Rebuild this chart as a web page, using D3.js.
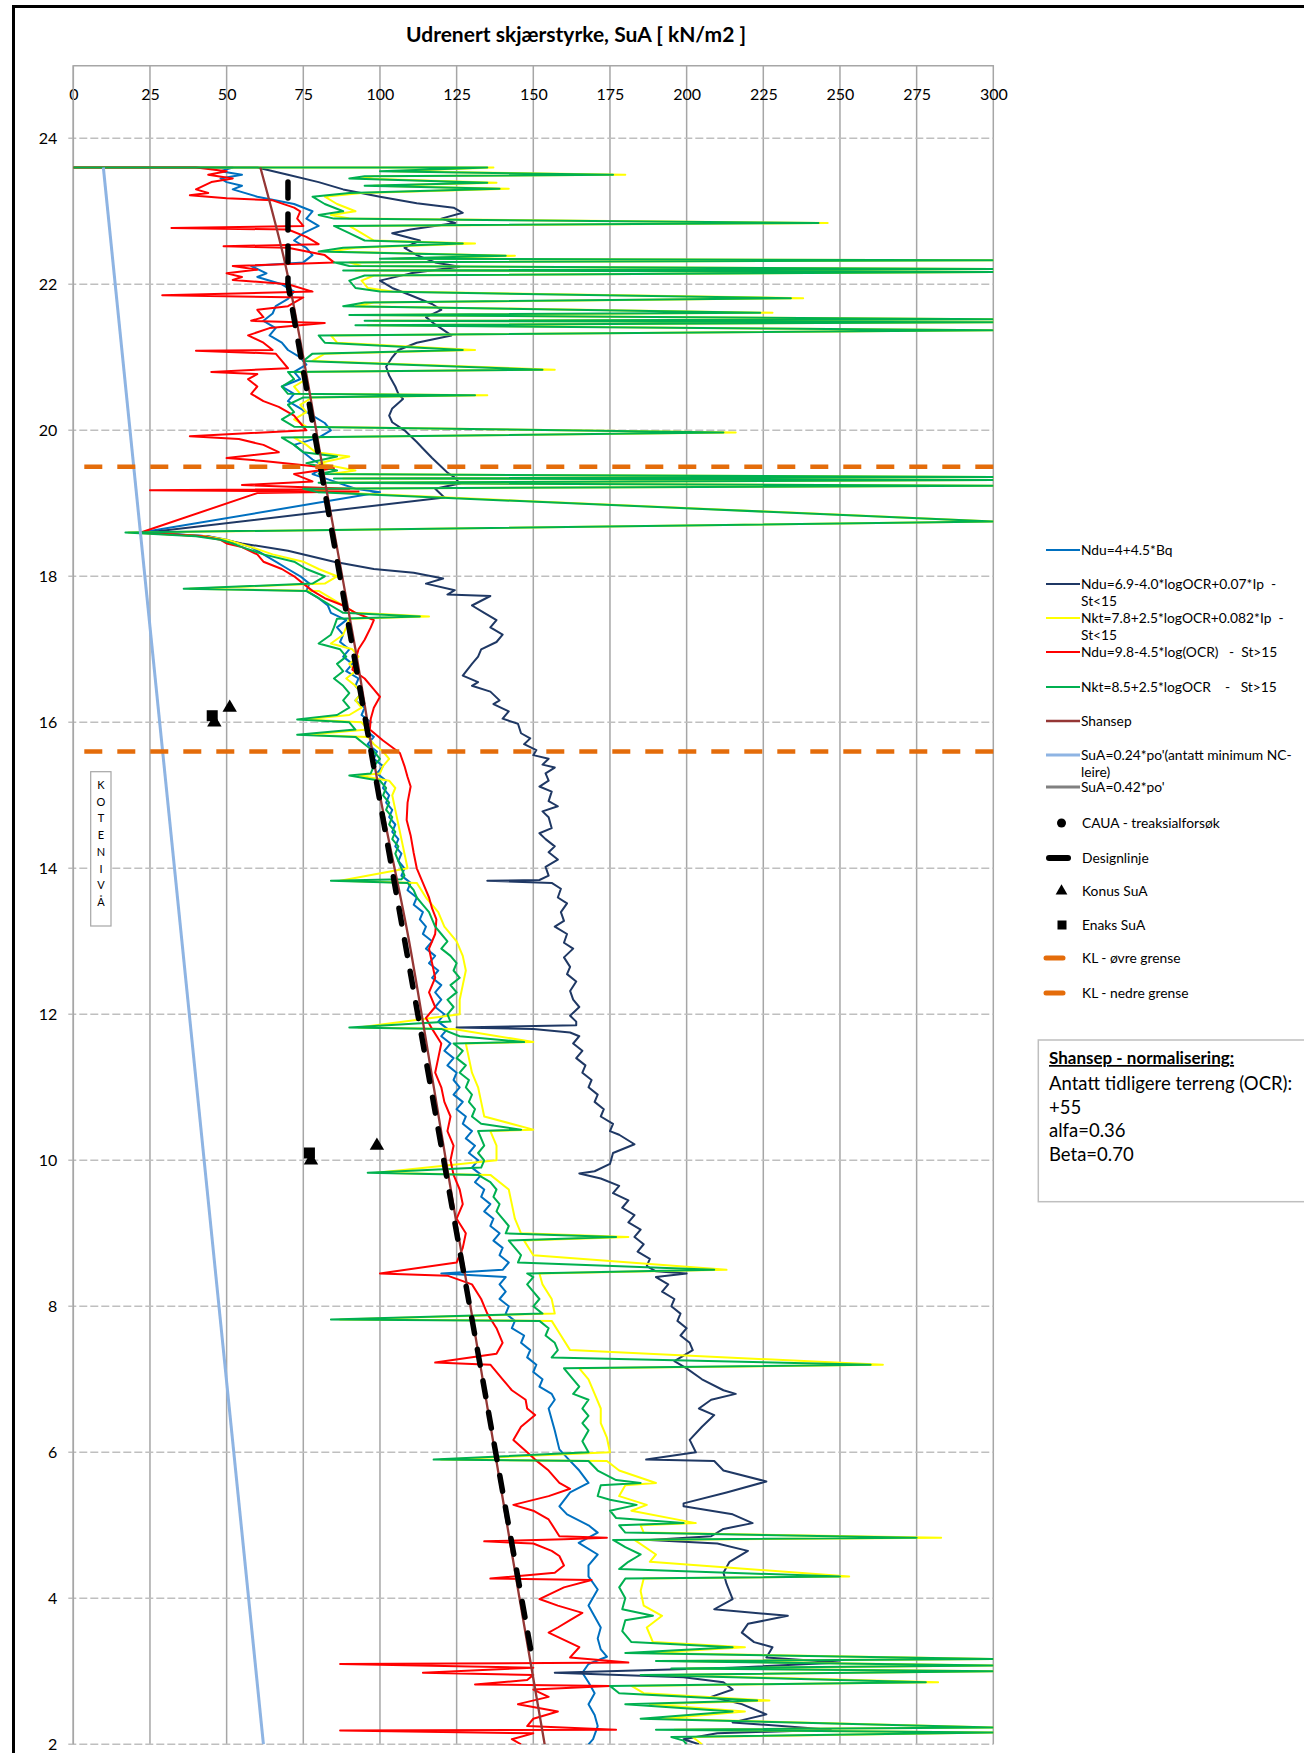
<!DOCTYPE html>
<html>
<head>
<meta charset="utf-8">
<script src="https://cdn.jsdelivr.net/npm/d3@7"></script>
<style>
  body { margin: 0; background: #fff; }
  svg { display: block; }
  text { font-family: Lato, "Open Sans", "DejaVu Sans", sans-serif; fill: #000; }
</style>
</head>
<body>
<svg id="chart" width="1304" height="1753"></svg>
<script>
// ---- axis ticks ----
const xTicks = [0, 25, 50, 75, 100, 125, 150, 175, 200, 225, 250, 275, 300];
const yTicks = [24, 22, 20, 18, 16, 14, 12, 10, 8, 6, 4, 2];

// ---- CPTU-derived undrained shear strength profiles: [kote, SuA] ----
const nduBq = [
  [23.6,0],[23.6,52],[23.55,48],[23.5,55],[23.45,48],[23.4,50],[23.35,55],[23.3,52],[23.2,60],[23.1,72],[23.0,78],[22.9,76],[22.8,80],[22.7,75],[22.6,72],[22.5,76],[22.4,78],[22.3,75],[22.25,58],[22.15,63],[22.1,60],[22.0,68],[21.9,72],[21.8,70],[21.7,66],[21.6,65],[21.5,62],[21.4,66],[21.3,64],[21.2,68],[21.1,70],[21.0,74],[20.9,76],[20.8,72],[20.7,74],[20.6,68],[20.5,72],[20.4,70],[20.3,74],[20.2,78],[20.1,82],[20.0,84],[19.9,80],[19.8,72],[19.7,75],[19.6,78],[19.5,82],[19.4,78],[19.3,85],[19.2,92],[19.15,100],
  [18.6,22],[18.55,44],[18.5,50],[18.4,58],[18.3,62],[18.2,66],[18.1,70],[18.0,74],[17.9,77],[17.8,76],[17.7,80],[17.6,83],[17.5,84],[17.4,89],[17.3,86],[17.2,88],[17.1,87],[17.0,90],[16.9,88],[16.8,91],[16.7,89],[16.6,93],[16.5,92],[16.4,94],[16.3,92],[16.2,95],[16.1,94],[16.0,97],[15.9,95],[15.8,98],[15.7,96],[15.6,99],[15.5,98],[15.4,101],[15.3,99],[15.2,102],[15.1,101],[15.0,103],[14.9,102],[14.8,104],[14.7,103],[14.6,105],[14.5,104],[14.4,106],[14.3,105],[14.2,107],[14.1,106],[14.0,108],[13.9,107],[13.8,110],[13.7,109],[13.6,112],[13.5,111],[13.4,114],[13.3,113],[13.2,115],[13.1,114],[13.0,117],[12.9,115],[12.8,118],[12.7,116],[12.6,119],[12.5,117],[12.4,120],[12.3,118],[12.2,120],[12.1,118],[12.0,121],[11.9,119],[11.8,122],[11.7,120],[11.6,123],[11.5,121],[11.4,124],[11.3,122],[11.2,125],[11.1,124],[11.0,126],[10.9,124],[10.8,127],[10.7,125],[10.6,128],[10.5,127],[10.4,130],[10.3,128],[10.2,131],[10.1,129],[10.0,132],[9.9,130],[9.8,133],[9.7,131],[9.6,134],[9.5,133],[9.4,136],[9.3,134],[9.2,137],[9.1,136],[9.0,139],[8.9,137],[8.8,140],[8.7,139],[8.6,142],[8.5,140],[8.45,120],[8.4,141],[8.3,139],[8.2,141],[8.1,139],[8.0,142],[7.9,141],[7.8,144],[7.7,143],[7.6,147],[7.5,146],[7.4,149],[7.3,148],[7.2,151],[7.1,150],[7.0,153],[6.9,152],[6.8,156],[6.72,157],[6.6,155],[6.45,156],[6.3,157],[6.04,158.5],[5.9,161.6],[5.75,165],[5.58,168],[5.45,162],[5.26,158.5],[5.15,161],[5.0,168],[4.9,171],[4.76,164.8],[4.6,171],[4.45,168],[4.3,168],[4.12,171],[3.9,168],[3.75,170],[3.6,172],[3.45,171],[3.3,172],[3.2,174],[3.1,168],[2.98,166],[2.85,168],[2.7,170],[2.55,168],[2.4,170],[2.25,171],[2.07,169.5],[2.0,168]
];

const nduOcrIp = [
  [23.6,0],[23.6,60],[23.5,70],[23.4,80],[23.3,88],[23.2,100],[23.11,112],[23.05,124],[22.98,127],[22.9,120],[22.84,124.5],[22.75,110],[22.7,104],[22.6,113],[22.5,108],[22.4,112],[22.3,118],[22.24,125.9],[22.15,110],[22.05,100],[21.95,104],[21.85,110],[21.73,117],[21.65,120],[21.55,115],[21.45,118],[21.3,123.3],[21.2,112],[21.1,106],[21.0,104],[20.87,102],[20.75,103],[20.6,105],[20.5,106],[20.43,107.5],[20.3,104],[20.2,103],[20.11,104],[20.0,108],[19.84,112],[19.75,114],[19.62,117],[19.5,120],[19.42,122],[19.35,124.5],[19.27,126],[19.2,118],[19.08,121],
  [18.6,24],[18.55,43.7],[18.45,55],[18.35,70],[18.2,85],[18.1,98],[18.05,111],[17.97,120.6],[17.9,115],[17.81,124.4],[17.75,122],[17.73,136],[17.6,130],[17.5,134],[17.4,138],[17.3,136],[17.2,140],[17.1,138],[17.0,133],[16.9,132],[16.8,130],
  [16.64,127],[16.55,132],[16.5,130],[16.42,136],[16.3,139],[16.25,137],[16.15,142],[16.05,140],[15.98,145],[15.85,146],[15.78,149],[15.7,147],[15.62,151],[15.55,150],[15.5,155],[15.42,153],[15.38,157],[15.3,154],[15.2,155],[15.12,152],[15.05,156],[14.92,155],[14.85,158],[14.78,153],[14.7,155],[14.55,156],[14.48,152],[14.4,154],[14.3,157],[14.22,155],[14.12,158],[14.02,154],[13.9,155],[13.84,152],[13.83,135],[13.8,156],[13.72,159],[13.6,158],[13.52,161],[13.4,159],[13.28,160],[13.2,157],[13.1,161],[12.98,160],[12.9,163],[12.78,160],[12.65,162],[12.55,161],[12.45,164],[12.32,162],[12.2,163],[12.1,165],[11.98,162],[11.9,164],[11.85,164],[11.82,125],[11.8,150],[11.75,162],
  [11.7,165],[11.6,163],[11.5,166],[11.4,164],[11.3,167],[11.2,166],[11.1,169],[11.0,168],[10.9,171],[10.8,170],[10.7,173],[10.6,172],[10.5,176],[10.4,175],[10.35,178],[10.22,183],[10.1,176],[9.95,175],[9.85,170],[9.82,165],[9.75,172],[9.65,178],[9.55,176],[9.45,181],[9.35,179],[9.25,183],[9.15,181],[9.05,185],[8.95,183],[8.85,186],[8.75,184],[8.65,188],[8.55,187],[8.48,190],[8.45,200],[8.4,190],[8.3,194],[8.2,192],[8.1,196],[8.0,195],[7.9,198],[7.8,197],[7.7,200],[7.6,198],[7.5,201],[7.4,202],[7.25,196],[7.15,200],[7.0,205],[6.85,212],[6.8,216],[6.72,208],[6.6,204],[6.51,209],[6.35,205],[6.17,201],[6.0,203],[5.9,186.8],[5.88,209],[5.75,212],[5.6,226],[5.45,213],[5.3,199],[5.26,199],[5.15,215],[5.03,221.5],[4.95,212],[4.85,208],[4.8,188],[4.75,210],[4.65,220],[4.5,214],[4.35,212],[4.2,213],[3.99,215],[3.85,209],[3.76,233],[3.65,220],[3.53,218],[3.4,222],[3.33,228],[3.19,226],[3.12,250],[3.05,215],[2.98,157],[2.92,199],[2.85,212],[2.75,215],[2.65,208],[2.55,218],[2.41,226],[2.3,215],[2.2,247],[2.15,210],[2.07,199],[2.0,204]
];

const nktOcrIp = [
  [23.6,0],[23.6,137],[23.55,104],[23.5,180],[23.48,98],[23.45,94],[23.39,138],[23.35,98],[23.31,142],[23.25,94],[23.2,82],[23.1,86],[23.0,92],[22.95,84],[22.9,90],[22.84,246],[22.8,90],[22.7,94],[22.6,98],[22.56,131],[22.5,92],[22.45,84],[22.39,144],[22.35,104],[22.33,300],[22.3,90],[22.25,94],[22.21,300],[22.19,92],[22.17,300],[22.12,98],[22.05,94],[21.95,96],[21.9,104],[21.81,238],[21.75,98],[21.7,92],[21.61,228],[21.58,94],[21.52,300],[21.5,98],[21.48,300],[21.44,96],[21.37,300],[21.3,84],[21.2,86],[21.1,131],[21.05,82],[20.95,78],[20.83,157],[20.8,74],[20.7,76],[20.6,72],[20.5,74],[20.48,135],[20.45,78],[20.35,74],[20.25,76],[20.15,72],[20.05,76],[19.97,216],[19.9,72],[19.8,76],[19.7,79],[19.64,90],[19.55,80],[19.45,92],[19.4,84],[19.36,300],[19.34,88],[19.32,300],[19.28,84],[19.24,300],[19.2,78],[19.15,84],
  [18.75,300],[18.6,18],[18.55,43],[18.5,50],[18.4,58],[18.3,65],[18.2,75],[18.1,80],[18.0,86],[17.9,82],[17.83,38],[17.8,80],[17.7,84],[17.6,88],[17.5,92],[17.45,116],[17.42,90],[17.3,89],[17.2,88],[17.08,84],[17.0,91],[16.9,93],[16.8,90],[16.7,92],[16.6,89],[16.5,92],[16.4,94],[16.3,92],[16.2,94],[16.1,90],[16.04,76],[16.0,94],[15.9,96],[15.83,76],[15.8,96],[15.7,98],[15.6,101],[15.5,103],[15.4,101],[15.3,100],[15.27,93],[15.2,103],[15.1,105],[15.0,104],[14.8,105],[14.6,106],[14.4,107],[14.2,108],[14.0,109],[13.83,87],[13.8,112],[13.6,115],[13.4,119],[13.2,121],[13.0,125],[12.8,127],[12.6,128],[12.4,127],[12.2,126],[12.0,126],[11.82,93],[11.8,124],[11.62,150],[11.6,128],[11.4,129],[11.2,130],[11.0,132],[10.8,133],[10.6,134],[10.42,150],[10.4,136],[10.2,138],[10.0,138],[9.83,99],[9.8,136],[9.6,142],[9.4,143],[9.2,144],[9.0,146],[8.95,181],[8.9,147],[8.7,150],[8.5,213],[8.45,152],[8.3,153],[8.1,156],[7.9,157],[7.82,87],[7.8,156],[7.6,159],[7.4,162],[7.2,264],[7.15,165],[7.0,168],[6.8,170],[6.6,172],[6.4,172],[6.2,174],[6.0,175],[5.9,120],[5.88,174],[5.75,178],[5.58,190],[5.55,180],[5.4,178],[5.28,187],[5.2,182],[5.03,203],[5.0,185],[4.9,186],[4.83,283],[4.8,183],[4.6,190],[4.5,188],[4.3,253],[4.27,186],[4.1,185],[3.9,186],[3.76,192],[3.6,187],[3.4,189],[3.33,219],[3.25,187],[3.17,300],[3.14,196],[3.08,300],[3.04,200],[3.0,300],[2.95,192],[2.85,282],[2.8,182],[2.7,186],[2.6,227],[2.55,188],[2.45,219],[2.35,192],[2.23,300],[2.2,196],[2.16,300],[2.1,202],[2.0,205]
];

const nduOcr = [
  [23.6,0],[23.6,40],[23.55,50],[23.5,44],[23.45,52],[23.4,45],[23.3,40],[23.25,44],[23.22,38],[23.18,50],[23.15,65],[23.05,72],[23.0,74],[22.9,73],[22.8,75],[22.77,32],[22.75,70],[22.65,76],[22.55,80],[22.52,49],[22.5,70],[22.4,82],[22.3,85],[22.25,52],[22.2,60],[22.15,50],[22.1,55],[22.06,52],[22.0,70],[21.9,78],[21.85,29],[21.82,75],[21.7,70],[21.65,60],[21.55,62],[21.5,58],[21.47,82],[21.4,64],[21.3,57],[21.2,62],[21.1,65],[21.09,40],[21.05,66],[20.95,68],[20.85,70],[20.8,45],[20.77,60],[20.7,57],[20.6,60],[20.5,58],[20.4,62],[20.32,67],[20.2,72],[20.1,74],[20.0,76],[19.92,38],[19.88,54],[19.8,62],[19.7,67],[19.62,50],[19.58,62],[19.5,80],[19.48,85],[19.4,72],[19.3,78],[19.25,55],[19.2,90],[19.18,25],[19.16,93],[19.14,60],
  [18.6,22],[18.55,42],[18.5,48],[18.45,50],[18.4,55],[18.3,60],[18.2,62],[18.1,68],[18.0,72],[17.9,75],[17.8,78],[17.7,82],[17.6,88],[17.5,92],[17.4,98],[17.3,97],[17.13,95],[17.0,93],[16.85,92],[16.72,91],[16.6,95],[16.45,98],[16.35,100],[16.2,98],[16.05,97],[15.9,96.7],[15.75,101],[15.58,106.5],[15.4,108],[15.25,109],[15.12,110],[14.9,109],[14.66,108.7],[14.45,110],[14.21,111],[14.0,112],[13.8,114],[13.6,116],[13.45,117],[13.3,118.4],[13.1,118],[12.9,116],[12.7,117],[12.5,118],[12.3,116],[12.1,118],[11.95,115],[11.8,117],[11.6,120],[11.4,119],[11.2,118],[11.0,120],[10.8,121],[10.6,123],[10.4,122],[10.2,124],[10.0,123],[9.8,124],[9.6,126],[9.4,127],[9.2,125],[9.0,128],[8.8,127],[8.6,125],[8.45,100],[8.42,122],[8.3,130],[8.1,133],[7.9,135],[7.7,138],[7.5,140],[7.35,138],[7.23,118],[7.2,136],[7.0,140],[6.85,143],[6.72,147.5],[6.6,148],[6.51,150.6],[6.35,146],[6.17,143.5],[6.0,148],[5.9,150.6],[5.75,155],[5.58,158.5],[5.5,162],[5.4,155],[5.28,143.5],[5.2,150],[5.08,155],[4.95,157],[4.85,158.5],[4.83,174],[4.81,160],[4.78,134],[4.75,150],[4.65,156],[4.58,158.5],[4.45,160],[4.35,157],[4.27,136],[4.25,169],[4.15,160],[3.99,152],[3.9,158],[3.8,166],[3.7,162],[3.6,158],[3.53,155],[3.43,160],[3.33,165],[3.19,162],[3.12,181],[3.1,87],[3.05,150],[2.98,114],[2.95,150],[2.88,148],[2.82,131],[2.8,175],[2.75,150],[2.65,155],[2.55,145],[2.45,158],[2.35,150],[2.25,148],[2.2,177],[2.19,87],[2.15,150],[2.07,143],[2.0,146]
];

const nktOcr = [
  [23.6,0],[23.6,135],[23.55,100],[23.5,176],[23.48,95],[23.45,90],[23.39,135],[23.35,95],[23.31,139],[23.25,90],[23.2,78],[23.1,82],[23.0,88],[22.95,80],[22.9,85],[22.84,243],[22.8,85],[22.7,90],[22.6,95],[22.56,127],[22.5,88],[22.45,80],[22.39,141],[22.35,100],[22.33,300],[22.3,85],[22.25,90],[22.21,300],[22.19,88],[22.17,300],[22.12,95],[22.05,90],[21.95,92],[21.9,100],[21.81,234],[21.75,95],[21.7,88],[21.61,224],[21.58,90],[21.52,300],[21.5,95],[21.48,300],[21.44,92],[21.37,300],[21.3,80],[21.2,82],[21.1,127],[21.05,78],[20.95,75],[20.83,153],[20.8,70],[20.7,72],[20.6,68],[20.5,70],[20.48,131],[20.45,75],[20.35,70],[20.25,72],[20.15,68],[20.05,72],[19.97,212],[19.9,68],[19.8,72],[19.7,75],[19.64,86],[19.55,76],[19.45,86],[19.4,80],[19.36,300],[19.34,85],[19.32,300],[19.28,80],[19.24,300],[19.2,75],[19.15,80],
  [18.75,300],[18.6,17],[18.55,40],[18.5,48],[18.45,52],[18.4,55],[18.3,62],[18.2,72],[18.1,76],[18.0,82],[17.9,78],[17.83,36],[17.8,76],[17.7,80],[17.6,84],[17.5,88],[17.45,113],[17.42,86],[17.3,85],[17.2,84],[17.08,80],[17.0,87],[16.9,89],[16.8,86],[16.7,88],[16.6,85],[16.5,88],[16.4,90],[16.3,88],[16.2,90],[16.1,86],[16.04,73],[16.0,90],[15.9,92],[15.83,73],[15.8,92],[15.7,95],[15.6,98],[15.5,100],[15.4,98],[15.3,97],[15.27,90],[15.2,100],[15.1,102],[15.0,101],[14.9,103],[14.8,102],[14.7,104],[14.6,103],[14.5,105],[14.4,104],[14.3,106],[14.2,105],[14.1,106],[13.9,108],[13.85,107],[13.83,84],[13.8,109],[13.7,111],[13.6,112],[13.5,114],[13.4,116],[13.3,117],[13.2,118],[13.1,120],[13.0,122],[12.9,120],[12.8,123],[12.7,125],[12.6,124],[12.5,126],[12.4,123],[12.3,125],[12.2,122],[12.1,124],[12.0,122],[11.9,123],[11.82,90],[11.8,120],[11.7,126],[11.62,147],[11.6,124],[11.5,127],[11.4,125],[11.3,128],[11.2,126],[11.1,129],[11.0,128],[10.9,130],[10.8,129],[10.7,131],[10.6,130],[10.5,133],[10.42,146],[10.4,132],[10.3,133],[10.2,134],[10.1,132],[10.0,134],[9.9,133],[9.83,96],[9.8,132],[9.7,136],[9.6,138],[9.5,137],[9.4,139],[9.3,138],[9.2,140],[9.1,142],[9.0,141],[8.95,177],[8.9,142],[8.8,144],[8.7,146],[8.6,145],[8.5,209],[8.45,148],[8.4,150],[8.3,148],[8.2,150],[8.1,152],[8.0,150],[7.9,153],[7.82,84],[7.8,152],[7.7,155],[7.6,154],[7.5,157],[7.4,158],[7.3,156],[7.2,260],[7.15,160],[7.0,163],[6.9,165],[6.8,163],[6.72,168],[6.6,166],[6.5,168],[6.4,166],[6.3,168],[6.15,166],[6.0,168],[5.9,117.5],[5.88,168],[5.75,171],[5.62,177],[5.58,185],[5.55,172],[5.4,171],[5.35,175],[5.28,183.7],[5.2,175],[5.1,177],[5.03,199],[5.0,178],[4.9,180],[4.83,275],[4.8,176],[4.7,180],[4.6,185],[4.5,181],[4.4,178],[4.3,250],[4.27,180],[4.15,178],[4.0,180],[3.85,179],[3.76,189],[3.7,180],[3.55,179],[3.4,182],[3.33,215],[3.25,180],[3.17,300],[3.14,190],[3.08,300],[3.04,195],[3.0,300],[2.95,185],[2.85,278],[2.8,175],[2.7,178],[2.6,223],[2.55,180],[2.45,215],[2.35,185],[2.23,300],[2.2,190],[2.16,300],[2.1,195],[2.05,199],[2.0,200]
];

// SHANSEP profile
const shansepKote  = [23.6, 22.3, 21.0, 19.2, 17.0, 15.0, 13.0, 11.9, 10.0, 8.0, 6.0, 4.0, 2.0];
const shansepValue = [61, 69, 75, 82.5, 92, 100, 109.5, 114, 121.5, 129.5, 137.5, 145.5, 153.7];

// SuA = 0.24*po' (minimum NC clay)
const ncKote  = [23.6, 2.0];
const ncValue = [9.8, 62];

// Design line
const designKote  = [23.4, 22.0, 3.1];
const designValue = [70, 70, 150];

// Laboratory results
const konusKote  = [16.2, 16.0, 10.2, 10.0];
const konusValue = [51, 46, 99, 77.5];
const enaksKote  = [16.09, 10.1];
const enaksValue = [45.3, 77];

// Upper / lower limit of quick clay layer
const klKote = [19.5, 15.6];

// ---- legend ----
const legendItems = [
  { kind: "line", color: "#0070C0", width: 2,   lines: ["Ndu=4+4.5*Bq"] },
  { kind: "line", color: "#1F3864", width: 2,   lines: ["Ndu=6.9-4.0*logOCR+0.07*Ip  -", "St<15"] },
  { kind: "line", color: "#FFFF00", width: 2,   lines: ["Nkt=7.8+2.5*logOCR+0.082*Ip  -", "St<15"] },
  { kind: "line", color: "#FF0000", width: 2,   lines: ["Ndu=9.8-4.5*log(OCR)   -  St>15"] },
  { kind: "line", color: "#00B050", width: 2,   lines: ["Nkt=8.5+2.5*logOCR    -   St>15"] },
  { kind: "line", color: "#953735", width: 2.5, lines: ["Shansep"] },
  { kind: "line", color: "#8EB4E3", width: 3,   lines: ["SuA=0.24*po'(antatt minimum NC-", "leire)"] },
  { kind: "line", color: "#808080", width: 3,   lines: ["SuA=0.42*po'"] },
  { kind: "circle",   lines: ["CAUA - treaksialforsøk"] },
  { kind: "design",   lines: ["Designlinje"] },
  { kind: "triangle", lines: ["Konus SuA"] },
  { kind: "square",   lines: ["Enaks SuA"] },
  { kind: "kl",       lines: ["KL - øvre grense"] },
  { kind: "kl",       lines: ["KL - nedre grense"] }
];
const legendY = [550, 584, 618, 652, 687, 721, 755, 787, 823, 858, 891, 925, 958, 993];

const shansepNote = ["Antatt tidligere terreng (OCR):", "+55", "alfa=0.36", "Beta=0.70"];

// ---- drawing ----
const svg = d3.select("#chart");
const x = d3.scaleLinear().domain([0, 300]).range([73.3, 993.3]);
const y = d3.scaleLinear().domain([25, 2]).range([65.3, 1744.3]);
const xr = x.range(), yr = y.range();

svg.append("defs").append("clipPath").attr("id", "plotClip")
  .append("rect").attr("x", xr[0]).attr("y", yr[0])
  .attr("width", xr[1] - xr[0]).attr("height", yr[1] - yr[0]);

// outer chart frame (left and top edges)
svg.append("path").attr("d", "M13.5,1753 V6.5 H1304")
  .attr("fill", "none").attr("stroke", "#000").attr("stroke-width", 3);

// title
svg.append("text").attr("x", 576).attr("y", 42).attr("text-anchor", "middle")
  .style("font-size", "21px").style("font-weight", "bold")
  .text("Udrenert skjærstyrke, SuA [ kN/m2 ]");

// gridlines
const grid = svg.append("g");
grid.selectAll("line.v").data(xTicks).join("line")
  .attr("x1", d => x(d)).attr("x2", d => x(d))
  .attr("y1", yr[0]).attr("y2", yr[1])
  .attr("stroke", "#A6A6A6").attr("stroke-width", 1.5);
grid.selectAll("line.h").data(yTicks).join("line")
  .attr("x1", xr[0] - 5).attr("x2", xr[1])
  .attr("y1", d => y(d)).attr("y2", d => y(d))
  .attr("stroke", "#BFBFBF").attr("stroke-width", 1.5)
  .attr("stroke-dasharray", "8,3");

// x axis on top, labels below the axis line
const xAxis = svg.append("g").attr("transform", `translate(0,${yr[0]})`)
  .call(d3.axisBottom(x).tickValues(xTicks).tickSize(0).tickFormat(d3.format("d")));
xAxis.select(".domain").attr("stroke", "#A6A6A6").attr("stroke-width", 1.5);
xAxis.selectAll("text").attr("y", 29).attr("dy", "0.35em")
  .style("font-size", "16px").style("font-family", "Lato, sans-serif").attr("fill", "#000");

// y axis
const yAxis = svg.append("g").attr("transform", `translate(${xr[0]},0)`)
  .call(d3.axisLeft(y).tickValues(yTicks).tickSize(0).tickPadding(16).tickFormat(d3.format("d")));
yAxis.select(".domain").remove();
yAxis.selectAll("text").style("font-size", "16px").style("font-family", "Lato, sans-serif").attr("fill", "#000");
svg.append("line").attr("x1", xr[0]).attr("x2", xr[0]).attr("y1", yr[0]).attr("y2", yr[1])
  .attr("stroke", "#A6A6A6").attr("stroke-width", 1.5);

// KOTENIVÅ label box
const kote = svg.append("g");
kote.append("rect").attr("x", 90.7).attr("y", 771.7).attr("width", 20.3).attr("height", 154.3)
  .attr("fill", "#fff").attr("stroke", "#A6A6A6").attr("stroke-width", 1.2);
kote.selectAll("text").data("KOTENIVÅ".split("")).join("text")
  .attr("x", 101).attr("y", (d, i) => 789 + i * 16.7).attr("text-anchor", "middle")
  .style("font-size", "11px").text(d => d);

// plot content
const plot = svg.append("g").attr("clip-path", "url(#plotClip)");
const line = d3.line().x(d => x(d[1])).y(d => y(d[0]));

const profiles = [
  { data: nduBq,    color: "#0070C0" },
  { data: nduOcrIp, color: "#1F3864" },
  { data: nktOcrIp, color: "#FFFF00" },
  { data: nduOcr,   color: "#FF0000" },
  { data: nktOcr,   color: "#00B050" }
];
profiles.forEach(p => {
  plot.append("path").datum(p.data).attr("d", line)
    .attr("fill", "none").attr("stroke", p.color).attr("stroke-width", 2)
    .attr("stroke-linejoin", "round");
});

const zipLine = (kotes, vals) => kotes.map((k, i) => [k, vals[i]]);

plot.append("path").datum(zipLine(shansepKote, shansepValue))
  .attr("d", d3.line().x(d => x(d[1])).y(d => y(d[0])).curve(d3.curveMonotoneY))
  .attr("fill", "none").attr("stroke", "#953735").attr("stroke-width", 2.3);

plot.append("path").datum(zipLine(ncKote, ncValue)).attr("d", line)
  .attr("fill", "none").attr("stroke", "#8EB4E3").attr("stroke-width", 3);

plot.append("path").datum(zipLine(designKote, designValue)).attr("d", line)
  .attr("fill", "none").attr("stroke", "#000").attr("stroke-width", 5.5)
  .attr("stroke-dasharray", "16,16").attr("stroke-linecap", "round");

plot.selectAll("path.konus").data(zipLine(konusKote, konusValue)).join("path")
  .attr("transform", d => `translate(${x(d[1])},${y(d[0])})`)
  .attr("d", d3.symbol(d3.symbolTriangle, 90)).attr("fill", "#000");
plot.selectAll("rect.enaks").data(zipLine(enaksKote, enaksValue)).join("rect")
  .attr("x", d => x(d[1]) - 5.5).attr("y", d => y(d[0]) - 5.5)
  .attr("width", 11).attr("height", 11).attr("fill", "#000");

// quick clay limits, dashes laid out from the right edge
svg.selectAll("line.kl").data(klKote).join("line")
  .attr("x1", xr[1]).attr("x2", xr[0])
  .attr("y1", d => y(d)).attr("y2", d => y(d))
  .attr("stroke", "#E46C0A").attr("stroke-width", 4.5)
  .attr("stroke-dasharray", "18,15");

// legend
const lg = svg.append("g").style("font-size", "13.8px");
legendItems.forEach((it, i) => {
  const ly = legendY[i];
  const g = lg.append("g");
  if (it.kind === "line") {
    g.append("line").attr("x1", 1046).attr("x2", 1080).attr("y1", ly).attr("y2", ly)
      .attr("stroke", it.color).attr("stroke-width", it.width);
  } else if (it.kind === "circle") {
    g.append("circle").attr("cx", 1061.5).attr("cy", ly).attr("r", 4.5).attr("fill", "#000");
  } else if (it.kind === "design") {
    g.append("line").attr("x1", 1049).attr("x2", 1068).attr("y1", ly).attr("y2", ly)
      .attr("stroke", "#000").attr("stroke-width", 6).attr("stroke-linecap", "round");
  } else if (it.kind === "triangle") {
    g.append("path").attr("transform", `translate(1061.5,${ly})`)
      .attr("d", d3.symbol(d3.symbolTriangle, 60)).attr("fill", "#000");
  } else if (it.kind === "square") {
    g.append("rect").attr("x", 1057.5).attr("y", ly - 4.5).attr("width", 9).attr("height", 9).attr("fill", "#000");
  } else if (it.kind === "kl") {
    g.append("line").attr("x1", 1046).attr("x2", 1063).attr("y1", ly).attr("y2", ly)
      .attr("stroke", "#E46C0A").attr("stroke-width", 5).attr("stroke-linecap", "round");
  }
  it.lines.forEach((t, j) => {
    g.append("text").attr("x", it.kind === "line" ? 1081 : 1082)
      .attr("y", ly + j * 17).attr("dy", "0.35em").style("white-space", "pre").text(t);
  });
});

// SHANSEP normalisation note
const note = svg.append("g");
note.append("rect").attr("x", 1038.3).attr("y", 1040).attr("width", 300).attr("height", 161.7)
  .attr("fill", "#fff").attr("stroke", "#BFBFBF").attr("stroke-width", 1.5);
note.append("text").attr("x", 1049).attr("y", 1064)
  .style("font-size", "17px").style("font-weight", "bold").style("text-decoration", "underline")
  .text("Shansep - normalisering:");
note.selectAll("text.l").data(shansepNote).join("text")
  .attr("x", 1049).attr("y", (d, i) => 1090 + i * 23.5)
  .style("font-size", "18.5px").text(d => d);
</script>
</body>
</html>
